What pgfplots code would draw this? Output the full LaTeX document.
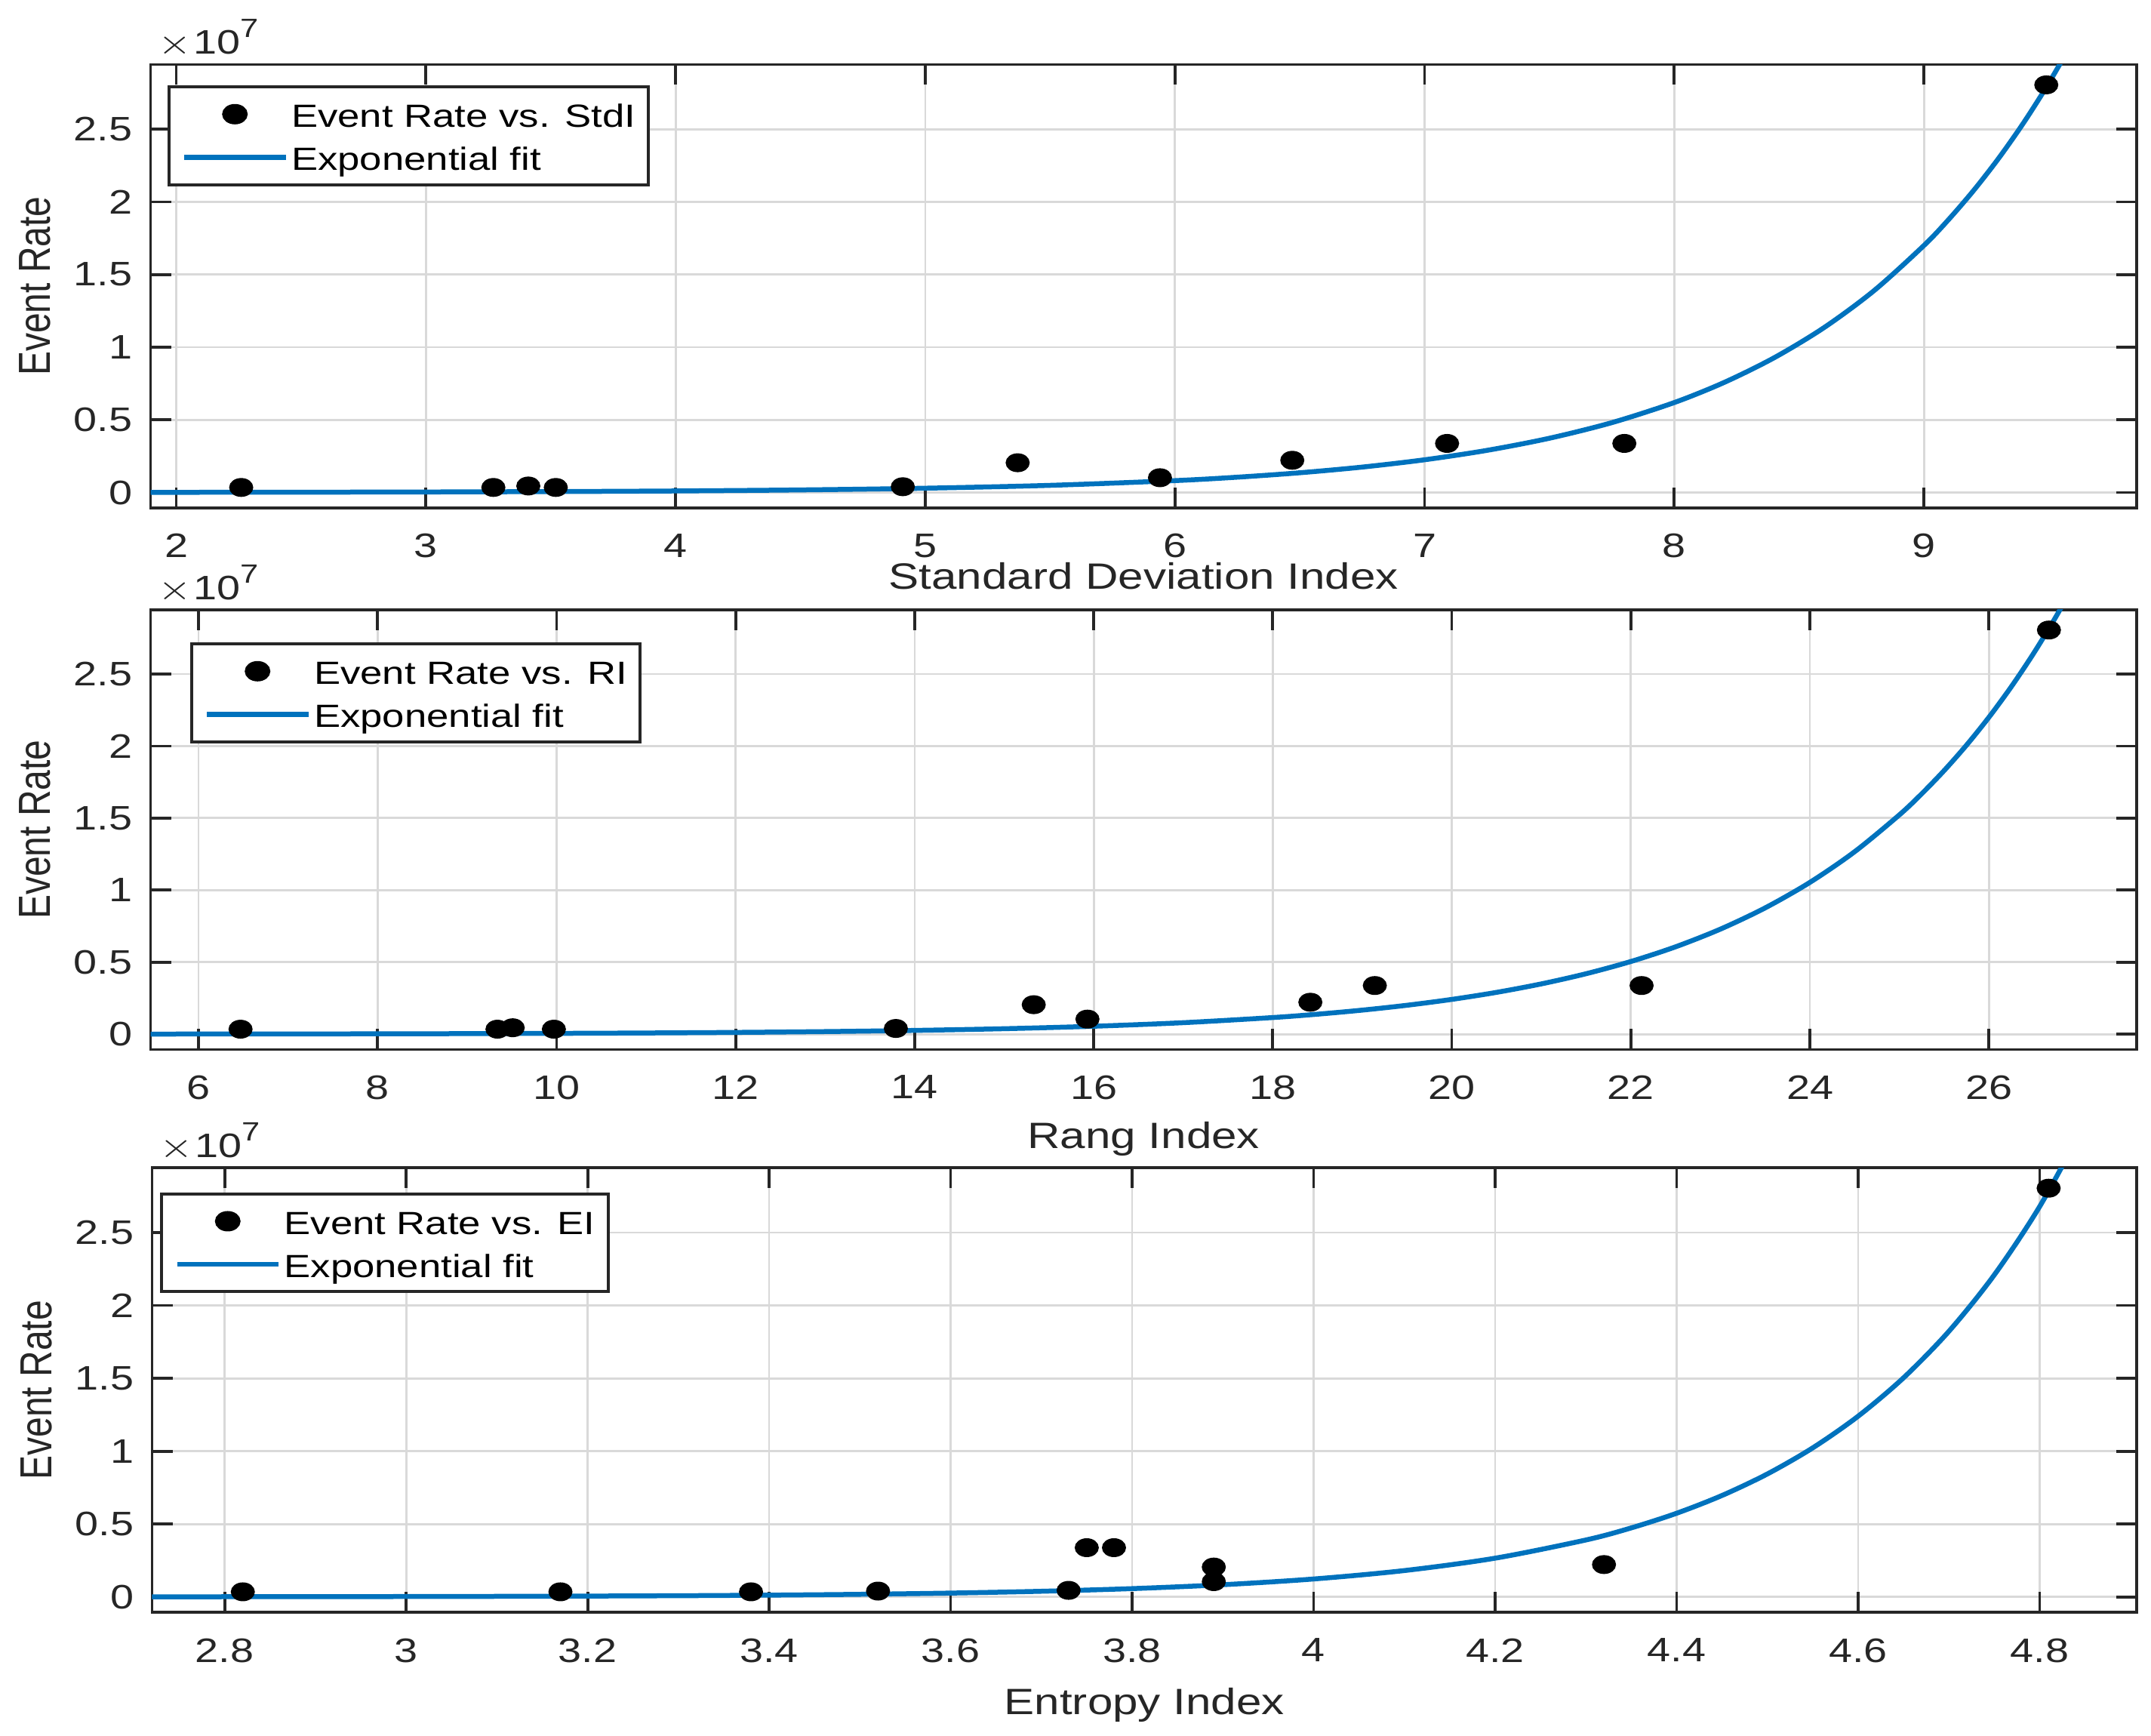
\documentclass[border=0pt]{standalone}
\usepackage{fontspec}
\setmainfont{Liberation Sans}[FakeStretch=1.24]
\newfontfamily\plainfont{Liberation Sans}
\usepackage{graphicx}
\usepackage{pgfplots}
\pgfplotsset{compat=1.18}
\definecolor{axgray}{HTML}{262626}
\definecolor{gridgray}{HTML}{D9D9D9}
\definecolor{fitblue}{HTML}{0072BD}

\newcommand{\expolabel}{\scalebox{1.24}[1]{$\times$}\kern0.4pt 10\raisebox{4.4pt}{\fontsize{7}{7}\selectfont 7}}

\pgfplotsset{
  evstyle/.style={
    scale only axis, width=526.3pt,
    axis line style={axgray, line width=0.75pt},
    every tick/.append style={axgray, line width=0.75pt},
    major tick length=5.4pt,
    tick align=inside, tick pos=both,
    grid=major, major grid style={gridgray, line width=0.55pt},
    ymin=-1060000, ymax=29450000,
    ytick={0,5000000,10000000,15000000,20000000,25000000},
    yticklabels={0,0.5,1,1.5,2,2.5},
    scaled y ticks=false, scaled x ticks=false,
    /pgf/number format/assume math mode=true,
    tick label style={font=\fontsize{9}{10}\selectfont, text=axgray},
    xticklabel style={inner sep=0pt, anchor=north, yshift=-6.7pt},
    yticklabel style={inner sep=0pt, anchor=east, xshift=-4.6pt},
    legend image code/.code={\draw[mark repeat=2,mark phase=2,##1] plot coordinates {(0pt,3.5pt) (13.4pt,3.5pt) (26.8pt,3.5pt)};},
    legend style={draw=axgray, line width=0.8pt, fill=white, inner xsep=3.5pt, inner ysep=3pt, row sep=3pt, anchor=north west, at={(0,1)}, cells={anchor=base west}, nodes={inner sep=0pt, text height=7.66pt, text depth=0.76pt, font=\fontsize{8.5}{10}\selectfont, text=black}},
  },
  scat/.style={only marks, mark=*, mark size=2.3pt, mark options={xscale=1.3, fill=black, draw=black}},
  fit/.style={fitblue, line width=1.3pt, no markers, smooth},
}

\begin{document}
\begin{tikzpicture}
\useasboundingbox (0,0) rectangle (570pt,460pt);

% ---------------- Panel 1 ----------------
\begin{axis}[evstyle, at={(39.9pt,325.4pt)}, anchor=south west, height=117.5pt,
  xmin=1.897, xmax=9.852, xtick={2,3,4,5,6,7,8,9},
  legend style={xshift=4.4pt, yshift=-5.6pt},
  extra description/.code={
    \node[anchor=base west, inner sep=0pt, text=axgray, font=\fontsize{9}{10}\selectfont, xshift=1.8pt, yshift=2.7pt] at (0,1) {\expolabel};
    \node[anchor=base, inner sep=0pt, text=axgray, font=\fontsize{9.7}{11}\selectfont, yshift=-21.6pt] at (0.5,0) {Standard Deviation Index};
    \node[anchor=center, inner sep=0pt, text=axgray, xshift=-30.7pt] at (0,0.5) {\scalebox{1.24}[1]{\rotatebox{90}{\plainfont\fontsize{9.6}{11}\selectfont Event Rate}}};
  }]
\addplot[scat] coordinates {
 (2.26,350000) (3.27,350000) (3.41,450000) (3.52,350000) (4.91,400000)
 (5.37,2050000) (5.94,1020000) (6.47,2220000) (7.09,3380000) (7.80,3380000) (9.49,28050000)};
\addlegendentry{\hspace{0.9pt}Event Rate vs. StdI\hspace{-2.3pt}}
\addplot[fit] coordinates {
 (1.897,13030) (2.5,23950) (3,39685) (3.5,65757) (4,108958) (4.5,180543)
 (5,299156) (5.5,495693) (6,821365) (6.25,1057296) (6.5,1360991) (6.75,1751918)
 (7,2255135) (7.25,2902903) (7.5,3736736) (7.75,4810082) (8,6191723)
 (8.2,7577733) (8.4,9273993) (8.6,11349948) (8.8,13890615) (9,17000000)
 (9.1,18806709) (9.2,20805416) (9.3,23016538) (9.4,25462651) (9.5,28168762) (9.6,31162394)};
\addlegendentry{\hspace{0.9pt}Exponential fit\hspace{-2.3pt}}
\end{axis}

% ---------------- Panel 2 ----------------
\begin{axis}[evstyle, at={(39.9pt,181.9pt)}, anchor=south west, height=116.5pt,
  xmin=5.465, xmax=27.65, xtick={6,8,10,12,14,16,18,20,22,24,26},
  legend style={xshift=10.4pt, yshift=-8.7pt},
  extra description/.code={
    \node[anchor=base west, inner sep=0pt, text=axgray, font=\fontsize{9}{10}\selectfont, xshift=1.8pt, yshift=2.7pt] at (0,1) {\expolabel};
    \node[anchor=base, inner sep=0pt, text=axgray, font=\fontsize{9.7}{11}\selectfont, yshift=-26.3pt] at (0.5,0) {Rang Index};
    \node[anchor=center, inner sep=0pt, text=axgray, xshift=-30.7pt] at (0,0.5) {\scalebox{1.24}[1]{\rotatebox{90}{\plainfont\fontsize{9.6}{11}\selectfont Event Rate}}};
  }]
\addplot[scat] coordinates {
 (6.47,350000) (9.34,350000) (9.51,450000) (9.97,350000) (13.79,400000)
 (15.33,2050000) (15.93,1050000) (18.42,2220000) (19.14,3380000) (22.12,3380000) (26.67,28050000)};
\addlegendentry{\hspace{0.9pt}Event Rate vs. RI\hspace{-2.3pt}}
\addplot[fit] coordinates {
 (5.465,11495) (7,20223) (8,29218) (9,42216) (10,60995) (11,88129) (12,127331)
 (13,183975) (14,265815) (15,384058) (16,554899) (17,801750) (18,1158400)
 (18.5,1392420) (19,1673710) (19.5,2011830) (20,2418240) (20.5,2906770)
 (21,3493970) (21.5,4199820) (22,5048250) (22.5,6068080) (23,7293930)
 (23.5,8767410) (24,10538570) (24.5,12667530) (25,15226570) (25.25,16693890)
 (25.5,18302590) (25.75,20066310) (26,22000000) (26.25,24120030) (26.5,26444350)
 (26.75,28992660) (27,31786550)};
\addlegendentry{\hspace{0.9pt}Exponential fit\hspace{-2.3pt}}
\end{axis}

% ---------------- Panel 3 ----------------
\begin{axis}[evstyle, at={(40.3pt,32.76pt)}, anchor=south west, height=117.8pt, width=525.9pt,
  xmin=2.720, xmax=4.907, xtick={2.8,3,3.2,3.4,3.6,3.8,4,4.2,4.4,4.6,4.8},
  legend style={xshift=2.1pt, yshift=-6.6pt},
  extra description/.code={
    \node[anchor=base west, inner sep=0pt, text=axgray, font=\fontsize{9}{10}\selectfont, xshift=1.8pt, yshift=2.7pt] at (0,1) {\expolabel};
    \node[anchor=base, inner sep=0pt, text=axgray, font=\fontsize{9.7}{11}\selectfont, yshift=-27pt] at (0.5,0) {Entropy Index};
    \node[anchor=center, inner sep=0pt, text=axgray, xshift=-30.6pt] at (0,0.5) {\scalebox{1.24}[1]{\rotatebox{90}{\plainfont\fontsize{9.6}{11}\selectfont Event Rate}}};
  }]
\addplot[scat] coordinates {
 (2.82,350000) (3.17,350000) (3.38,350000) (3.52,400000) (3.73,450000)
 (3.75,3380000) (3.78,3380000) (3.89,2050000) (3.89,1050000) (4.32,2220000) (4.81,28050000)};
\addlegendentry{\hspace{0.9pt}Event Rate vs. EI\hspace{-2.3pt}}
\addplot[fit] coordinates {
 (2.72,8912) (2.9,17822) (3.1,38492) (3.3,83133) (3.4,122175) (3.5,179550)
 (3.6,263868) (3.7,387780) (3.8,569894) (3.9,837527) (4.0,1230836) (4.1,1808850)
 (4.2,2658324) (4.3,3906719) (4.35,4736019) (4.4,5741374) (4.45,6960132)
 (4.5,8437592) (4.55,10228698) (4.6,12400000) (4.65,15032210) (4.7,18223214)
 (4.75,22091560) (4.8,26781098) (4.85,32466070)};
\addlegendentry{\hspace{0.9pt}Exponential fit\hspace{-2.3pt}}
\end{axis}
\end{tikzpicture}
\end{document}
